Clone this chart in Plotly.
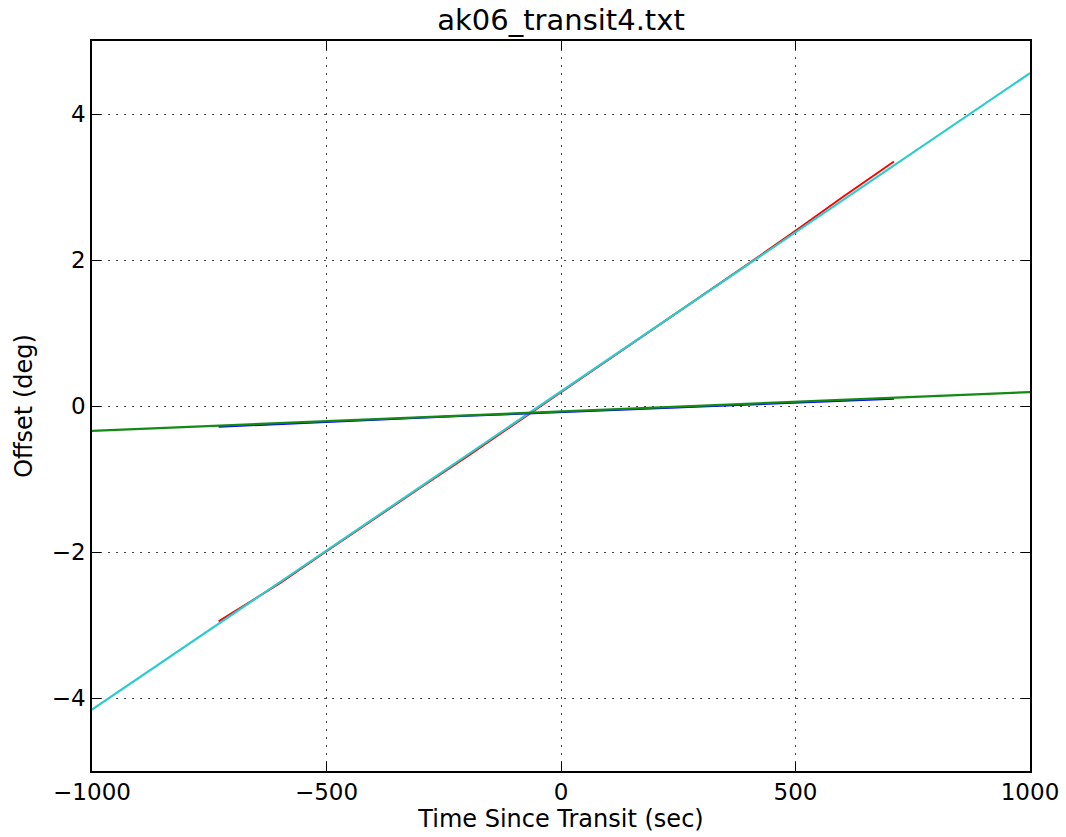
import plotly.graph_objects as go

# Data
red_x = [-730, -600, -500, -400, -300, -200, -100, 0, 100, 200, 300, 400, 500, 600, 710]
red_y = [-2.95, -2.43, -1.99, -1.55, -1.12, -0.69, -0.25, 0.18, 0.62, 1.06, 1.50, 1.95, 2.40, 2.86, 3.35]

blue_x = [-730, -600, -500, -400, -300, -200, -100, 0, 100, 200, 300, 400, 500, 600, 710]
blue_y = [-0.285, -0.245, -0.215, -0.19, -0.16, -0.135, -0.11, -0.085, -0.06, -0.035, -0.01, 0.015, 0.04, 0.07, 0.10]

cyan_x = [-1000, 1000]
cyan_y = [-4.16, 4.56]

green_x = [-1000, 1000]
green_y = [-0.34, 0.19]

x_ticks = [-1000, -500, 0, 500, 1000]
y_ticks = [-4, -2, 0, 2, 4]

FONT = "DejaVu Sans"

fig = go.Figure()
fig.add_trace(go.Scatter(x=red_x, y=red_y, mode="lines", line=dict(color="#ff0000", width=2)))
fig.add_trace(go.Scatter(x=cyan_x, y=cyan_y, mode="lines", line=dict(color="#2ccccc", width=2.2)))
fig.add_trace(go.Scatter(x=blue_x, y=blue_y, mode="lines", line=dict(color="#0000ff", width=2)))
fig.add_trace(go.Scatter(x=green_x, y=green_y, mode="lines", line=dict(color="#138a13", width=2.2)))

axis_common = dict(
    showline=True, linecolor="black", linewidth=1.5, mirror="ticks",
    ticks="inside", ticklen=9, tickwidth=1, tickcolor="black",
    showgrid=True, gridcolor="#444444", griddash="2px,6px", gridwidth=1,
    zeroline=False, automargin=False,
    tickfont=dict(family=FONT, size=23, color="black"),
)

fig.update_layout(
    width=1066, height=837,
    margin=dict(l=92, r=36, t=41, b=66),
    paper_bgcolor="white", plot_bgcolor="white",
    showlegend=False,
    title=dict(text="ak06_transit4.txt", xref="paper", x=0.5, xanchor="center",
               yref="container", y=0.976, yanchor="middle",
               font=dict(family=FONT, size=29, color="black")),
    xaxis=dict(range=[-1000, 1000], tickvals=x_ticks,
               title=dict(text="Time Since Transit (sec)", font=dict(family=FONT, size=24, color="black"), standoff=4),
               **axis_common),
    yaxis=dict(range=[-5, 5], tickvals=y_ticks,
               title=dict(text="Offset (deg)", font=dict(family=FONT, size=24, color="black"), standoff=12),
               **axis_common),
)

fig.write_html("out.html")
